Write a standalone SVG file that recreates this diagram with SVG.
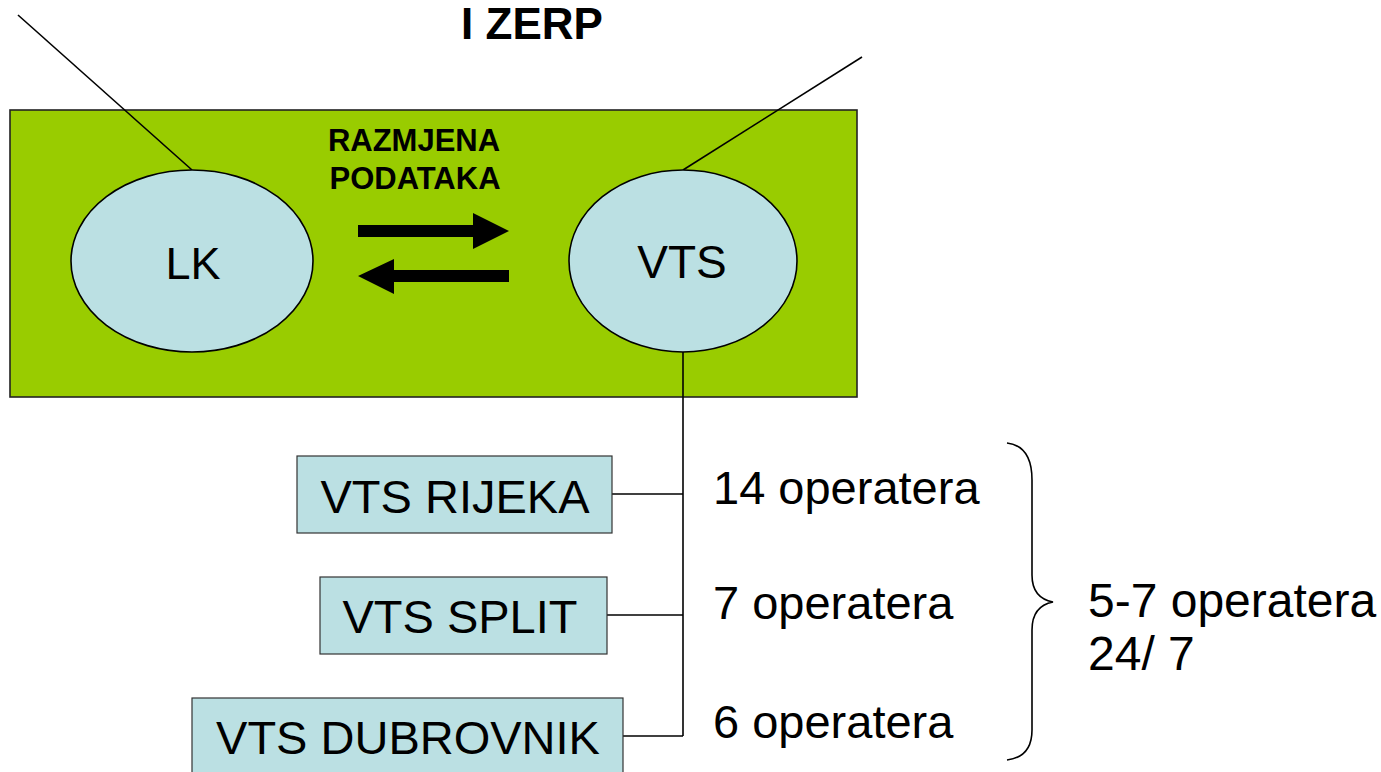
<svg xmlns="http://www.w3.org/2000/svg" width="1381" height="772" viewBox="0 0 1381 772">
<style>
.t{font-family:"Liberation Sans",Arial,sans-serif;fill:#000}
.b{font-weight:bold}
.ln{stroke:#000;stroke-width:1.6;fill:none}
.node{fill:#BBE0E3;stroke:#000;stroke-width:1.6}
.box{fill:#BBE0E3;stroke:#333;stroke-width:1.2}
</style>
<rect width="1381" height="772" fill="#fff"/>
<g id="zone">
<rect x="10" y="110" width="847" height="287" fill="#99CC00" stroke="#222" stroke-width="1.6"/>
</g>
<g id="connectors">
<line class="ln" x1="18" y1="15" x2="192" y2="170"/>
<line class="ln" x1="862" y1="57" x2="683" y2="170"/>
<polyline class="ln" points="683,352 683,736"/>
<line class="ln" x1="612" y1="494" x2="683" y2="494"/>
<line class="ln" x1="607" y1="615" x2="683" y2="615"/>
<line class="ln" x1="623" y1="736" x2="683" y2="736"/>
<path class="ln" d="M1007,443 Q1032,446 1032,480 L1032,575 Q1032,598 1053,602 Q1032,606 1032,630 L1032,730 Q1032,757 1007,760"/>
</g>
<g id="title"><text class="t b" x="532" y="39" font-size="44" text-anchor="middle">I ZERP</text></g>
<g id="exchange">
<text class="t b" x="414" y="151" font-size="31" text-anchor="middle">RAZMJENA</text>
<text class="t b" x="415" y="189" font-size="31" text-anchor="middle">PODATAKA</text>
<polygon points="358,225 473,225 473,213 509,231 473,249 473,237 358,237" fill="#000"/>
<polygon points="509,270 394,270 394,259 358,276 394,294 394,282 509,282" fill="#000"/>
</g>
<g id="lk">
<ellipse class="node" cx="192" cy="261" rx="121" ry="91"/>
<text class="t" x="193" y="279" font-size="45" text-anchor="middle">LK</text>
</g>
<g id="vts">
<ellipse class="node" cx="683" cy="261" rx="114" ry="91"/>
<text class="t" x="682" y="278" font-size="46" text-anchor="middle">VTS</text>
</g>
<g id="rijeka">
<rect class="box" x="297" y="456" width="315" height="77"/>
<text class="t" x="455" y="513" font-size="47" text-anchor="middle">VTS RIJEKA</text>
</g>
<g id="split">
<rect class="box" x="320" y="577" width="287" height="77"/>
<text class="t" x="460" y="633" font-size="47" text-anchor="middle">VTS SPLIT</text>
</g>
<g id="dubrovnik">
<rect class="box" x="192" y="698" width="431" height="80"/>
<text class="t" x="408" y="754" font-size="47" text-anchor="middle">VTS DUBROVNIK</text>
</g>
<g id="labels">
<text class="t" x="713" y="504" font-size="47">14 operatera</text>
<text class="t" x="713" y="619" font-size="47">7 operatera</text>
<text class="t" x="713" y="738" font-size="47">6 operatera</text>
<text class="t" x="1088" y="617" font-size="48">5-7 operatera</text>
<text class="t" x="1088" y="670" font-size="48">24/ 7</text>
</g>
</svg>
